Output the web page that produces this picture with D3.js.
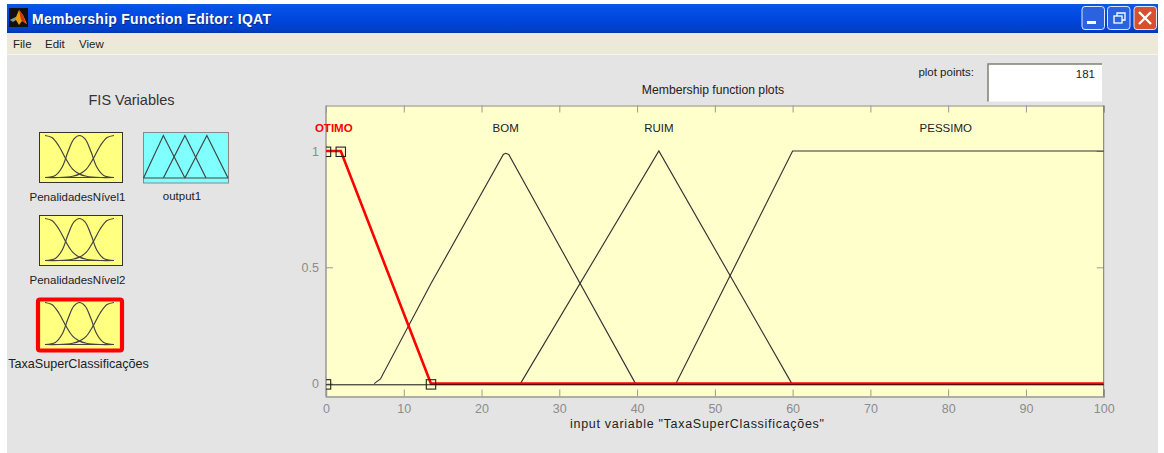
<!DOCTYPE html>
<html lang="en">
<head>
<meta charset="UTF-8">
<title>Membership Function Editor: IQAT</title>
<script src="https://d3js.org/d3.v7.min.js"></script>
<style>
    html, body { margin: 0; padding: 0; background: #fff; }
    svg { display: block; font-family: "Liberation Sans", Arial, sans-serif; }
</style>
</head>
<body>
<svg id="fig" width="1164" height="453"></svg>
<script>
// membership functions of TaxaSuperClassificacoes
const mfNames = ["OTIMO", "BOM", "RUIM", "PESSIMO"];
const mfLabelX = [1, 23.1, 42.8, 79.7];
const otimoX = [0, 1.9, 13.5, 100];
const otimoY = [1, 1, 0, 0];
const bomX = [6.2, 7, 13.5, 22.8, 23.1, 23.5, 39.8];
const bomY = [0, 0.02, 0.43, 0.985, 0.99, 0.985, 0];
const ruimX = [25, 42.8, 59.9];
const ruimY = [0, 1, 0];
const pessimoX = [45, 60, 100];
const pessimoY = [0, 1, 1];
const handleX = [0, 1.9, 0, 13.5];
const handleY = [1, 1, 0, 0];
const xTicks = [0, 10, 20, 30, 40, 50, 60, 70, 80, 90, 100];
const yTicks = [0, 0.5, 1];

// little icons: curve shapes in unit coordinates
const bellLeftX = [0, 0.1, 0.2, 0.3, 0.4, 0.5, 0.6, 0.8, 1];
const bellLeftY = [1, 0.95, 0.75, 0.45, 0.2, 0.08, 0.03, 0, 0];
const bellMidX = [0, 0.15, 0.25, 0.33, 0.42, 0.5, 0.58, 0.67, 0.75, 0.85, 1];
const bellMidY = [0, 0.05, 0.25, 0.6, 0.92, 1, 0.92, 0.6, 0.25, 0.05, 0];
const bellRightX = [0, 0.2, 0.4, 0.5, 0.6, 0.7, 0.8, 0.9, 1];
const bellRightY = [0, 0, 0.03, 0.08, 0.2, 0.45, 0.75, 0.95, 1];
const triStartX = [0, 0.235, 0.49];
const triMidX = [0.235, 0.49, 0.74];
const triEndX = [0.49, 0.75, 1];
const triY = [0, 1, 0];

const inputNames = ["PenalidadesNível1", "PenalidadesNível2", "TaxaSuperClassificações"];
const outputNames = ["output1"];

const svg = d3.select("#fig");

// window chrome
svg.append("rect").attr("x", 7).attr("y", 54).attr("width", 1151).attr("height", 399).attr("fill", "#e4e4e4");
svg.append("rect").attr("x", 7).attr("y", 33).attr("width", 1151).attr("height", 21).attr("fill", "#ece9d8");
svg.append("line").attr("x1", 7).attr("x2", 1158).attr("y1", 54.5).attr("y2", 54.5).attr("stroke", "#f6f5ee");

const defs = svg.append("defs");
const titleGrad = defs.append("linearGradient")
    .attr("id", "titleGrad").attr("x1", 0).attr("x2", 0).attr("y1", 0).attr("y2", 1);
[["0%", "#0a5be0"], ["15%", "#0550e8"], ["55%", "#0046dc"], ["90%", "#0040c8"], ["100%", "#0038a8"]]
    .forEach(s => titleGrad.append("stop").attr("offset", s[0]).attr("stop-color", s[1]));
svg.append("rect").attr("x", 7).attr("y", 4).attr("width", 1151).attr("height", 29).attr("fill", "url(#titleGrad)");

// matlab logo
svg.append("rect").attr("x", 9).attr("y", 8).attr("width", 19).attr("height", 19).attr("fill", "#111");
svg.append("path").attr("d", "M10,20 L16,17 L19,10 L23,15 L27,24 L22,21 L19,25 L16,20 Z").attr("fill", "#e8a010");
svg.append("path").attr("d", "M19,10 L23,15 L26,24 L21,20 Z").attr("fill", "#d83010");
svg.append("path").attr("d", "M10,20 L16,17 L16,20 L13,22 Z").attr("fill", "#70a0a0");

// title with its drop shadow
[[33, 25, "#0a2a80"], [32, 24, "#fff"]].forEach(t => {
    svg.append("text").attr("x", t[0]).attr("y", t[1]).attr("fill", t[2])
        .attr("textLength", 239).attr("lengthAdjust", "spacing")
        .style("font-weight", "bold").style("font-size", "14px")
        .text("Membership Function Editor: IQAT");
});

const menu = [["File", 13], ["Edit", 45], ["View", 79]];
svg.selectAll(".menu").data(menu).join("text").attr("class", "menu")
    .attr("x", d => d[1]).attr("y", 47.5).attr("fill", "#222").style("font-size", "11.5px").text(d => d[0]);

// window buttons
const buttons = [[1082, "#2a62e0"], [1107.5, "#2a62e0"], [1134, "#d8502c"]];
svg.selectAll(".winbtn").data(buttons).join("rect").attr("class", "winbtn")
    .attr("x", d => d[0]).attr("y", 6.5).attr("width", 22.5).attr("height", 23).attr("rx", 3)
    .attr("fill", d => d[1]).attr("stroke", "#dfe8fb").attr("stroke-width", 1);
svg.append("rect").attr("x", 1087).attr("y", 21).attr("width", 9).attr("height", 3).attr("fill", "#fff");
svg.append("rect").attr("x", 1114).attr("y", 16).attr("width", 8).attr("height", 7).attr("fill", "none").attr("stroke", "#fff").attr("stroke-width", 1.3);
svg.append("path").attr("d", "M1117,16 V13 H1125 V20 H1122").attr("fill", "none").attr("stroke", "#fff").attr("stroke-width", 1.3);
svg.append("path").attr("d", "M1139,12 L1151,24 M1151,12 L1139,24").attr("stroke", "#fff").attr("stroke-width", 2.4);

// FIS variables panel
svg.append("text").attr("x", 131.5).attr("y", 105).attr("text-anchor", "middle")
    .attr("fill", "#333").style("font-size", "14.5px").text("FIS Variables");

function drawIcon(x0, y0, w, h, fill, edge, shapes) {
    const g = svg.append("g");
    g.append("rect").attr("x", x0).attr("y", y0).attr("width", w).attr("height", h)
        .attr("fill", fill).attr("stroke", edge).attr("stroke-width", 1);
    const sx = d3.scaleLinear().domain([0, 1]).range(shapes.xr);
    const sy = d3.scaleLinear().domain([0, 1]).range(shapes.yr);
    const line = d3.line().x(d => sx(d[0])).y(d => sy(d[1])).curve(shapes.curve);
    shapes.list.forEach(s => {
        g.append("path").attr("d", line(d3.zip(s[0], s[1])))
            .attr("fill", "none").attr("stroke", "#444").attr("stroke-width", 1.2);
    });
    g.append("line").attr("x1", sx(0)).attr("x2", sx(1)).attr("y1", sy(0)).attr("y2", sy(0))
        .attr("stroke", "#444").attr("stroke-width", 1.2);
}

const bellShapes = [[bellLeftX, bellLeftY], [bellMidX, bellMidY], [bellRightX, bellRightY]];
const inputTop = [132.5, 215.5, 299.5];
inputNames.forEach((name, i) => {
    drawIcon(39.5, inputTop[i], 83, 50, "#ffff80", "#333", {
        xr: [45, 114], yr: [inputTop[i] + 45, inputTop[i] + 3],
        curve: d3.curveCatmullRom, list: bellShapes
    });
    svg.append("text").attr("x", i === 2 ? 78.5 : 77.5).attr("y", inputTop[i] + 68).attr("text-anchor", "middle")
        .attr("fill", "#222").style("font-size", i === 2 ? "12.6px" : "11.5px").text(name);
});
// selected variable gets the red frame
svg.append("rect").attr("x", 38).attr("y", 299.5).attr("width", 84).attr("height", 51)
    .attr("fill", "none").attr("stroke", "#ff0000").attr("stroke-width", 4.2).attr("rx", 2);

drawIcon(143.5, 132.5, 85, 50.5, "#80ffff", "#888", {
    xr: [143.5, 228], yr: [178, 135.5], curve: d3.curveLinear,
    list: [[triStartX, triY], [triMidX, triY], [triEndX, triY]]
});
svg.append("text").attr("x", 182).attr("y", 200).attr("text-anchor", "middle")
    .attr("fill", "#222").style("font-size", "11.5px").text(outputNames[0]);

// plot points box: sunken edit field, dark top and left, light bottom and right
svg.append("text").attr("x", 974).attr("y", 76).attr("text-anchor", "end")
    .attr("fill", "#222").style("font-size", "11.5px").text("plot points:");
svg.append("rect").attr("x", 988).attr("y", 64).attr("width", 114).attr("height", 37.5).attr("fill", "#fff");
svg.append("path").attr("d", "M988,101.5 V64 H1102").attr("fill", "none").attr("stroke", "#808070").attr("stroke-width", 1.5);
svg.append("text").attr("x", 1095).attr("y", 78).attr("text-anchor", "end")
    .attr("fill", "#222").style("font-size", "11.5px").text("181");

// main axes
const x = d3.scaleLinear().domain([0, 100]).range([326, 1103.7]);
const y = d3.scaleLinear().domain([0, 1]).range([383.6, 151]);
const plotTop = 105.5, plotBottom = 396.5;

svg.append("rect").attr("x", x(0)).attr("y", plotTop).attr("width", x(100) - x(0)).attr("height", plotBottom - plotTop)
    .attr("fill", "#ffffcc");
defs.append("clipPath").attr("id", "plotClip").append("rect")
    .attr("x", x(0)).attr("y", plotTop).attr("width", x(100) - x(0)).attr("height", plotBottom - plotTop);

const axisColor = "#999";
function styleAxis(g) {
    g.selectAll("path").attr("stroke", axisColor).attr("stroke-width", 1.5);
    g.selectAll("line").attr("stroke", axisColor);
    g.selectAll("text").attr("fill", "#8c8c8c").style("font-size", "12.5px");
}
svg.append("g").attr("transform", `translate(0,${plotBottom})`)
    .call(d3.axisBottom(x).tickValues(xTicks).tickFormat(d3.format("d")).tickSize(-7).tickPadding(8))
    .call(styleAxis);
svg.append("g").attr("transform", `translate(0,${plotTop})`)
    .call(d3.axisTop(x).tickValues(xTicks).tickFormat("").tickSize(-7))
    .call(styleAxis)
    .call(g => g.select(".domain").attr("stroke", "#888").attr("stroke-width", 1));
svg.append("g").attr("transform", `translate(${x(0)},0)`)
    .call(d3.axisLeft(y).tickValues(yTicks).tickFormat(d3.format("~g")).tickSize(-7).tickPadding(7))
    .call(g => g.select(".domain").remove())
    .call(styleAxis);
svg.append("g").attr("transform", `translate(${x(100)},0)`)
    .call(d3.axisRight(y).tickValues(yTicks).tickFormat("").tickSize(-7))
    .call(g => g.select(".domain").remove())
    .call(styleAxis);
// frame sides run the whole height of the plot
svg.append("line").attr("x1", x(0)).attr("x2", x(0)).attr("y1", plotTop).attr("y2", plotBottom).attr("stroke", axisColor).attr("stroke-width", 1.5);
svg.append("line").attr("x1", x(100)).attr("x2", x(100)).attr("y1", plotTop).attr("y2", plotBottom).attr("stroke", "#777");

const mfLine = d3.line().x(d => x(d[0])).y(d => y(d[1]));
[[bomX, bomY], [ruimX, ruimY], [pessimoX, pessimoY]].forEach(s => {
    svg.append("path").attr("d", mfLine(d3.zip(s[0], s[1])))
        .attr("fill", "none").attr("stroke", "#333").attr("stroke-width", 1.15);
});
svg.append("path").attr("d", mfLine(d3.zip(otimoX, otimoY)))
    .attr("fill", "none").attr("stroke", "#ff0000").attr("stroke-width", 2.6);
// baseline sits just under the red line
svg.append("line").attr("x1", x(0)).attr("x2", x(100)).attr("y1", y(0) + 1.2).attr("y2", y(0) + 1.2)
    .attr("stroke", "#111").attr("stroke-width", 1);

// the handles at x = 0 are cut off by the plot edge
svg.append("g").attr("clip-path", "url(#plotClip)")
    .selectAll(".handle").data(d3.zip(handleX, handleY)).join("rect").attr("class", "handle")
    .attr("x", d => x(d[0]) - 4.7).attr("y", d => y(d[1]) - 3.9)
    .attr("width", 9.4).attr("height", 9.4).attr("fill", "none").attr("stroke", "#222").attr("stroke-width", 1.1);

svg.selectAll(".mflabel").data(mfNames).join("text").attr("class", "mflabel")
    .attr("x", (d, i) => x(mfLabelX[i])).attr("y", 132).attr("text-anchor", "middle")
    .attr("fill", (d, i) => i === 0 ? "#ff0000" : "#222")
    .style("font-size", "11.5px").style("font-weight", (d, i) => i === 0 ? "bold" : "normal")
    .text(d => d);

svg.append("text").attr("x", 713).attr("y", 94).attr("text-anchor", "middle")
    .attr("fill", "#222").style("font-size", "12.2px").text("Membership function plots");
svg.append("text").attr("x", 697).attr("y", 428).attr("text-anchor", "middle")
    .attr("fill", "#222").attr("textLength", 254).attr("lengthAdjust", "spacing")
    .style("font-size", "12.5px").text('input variable "TaxaSuperClassificações"');
</script>
</body>
</html>
